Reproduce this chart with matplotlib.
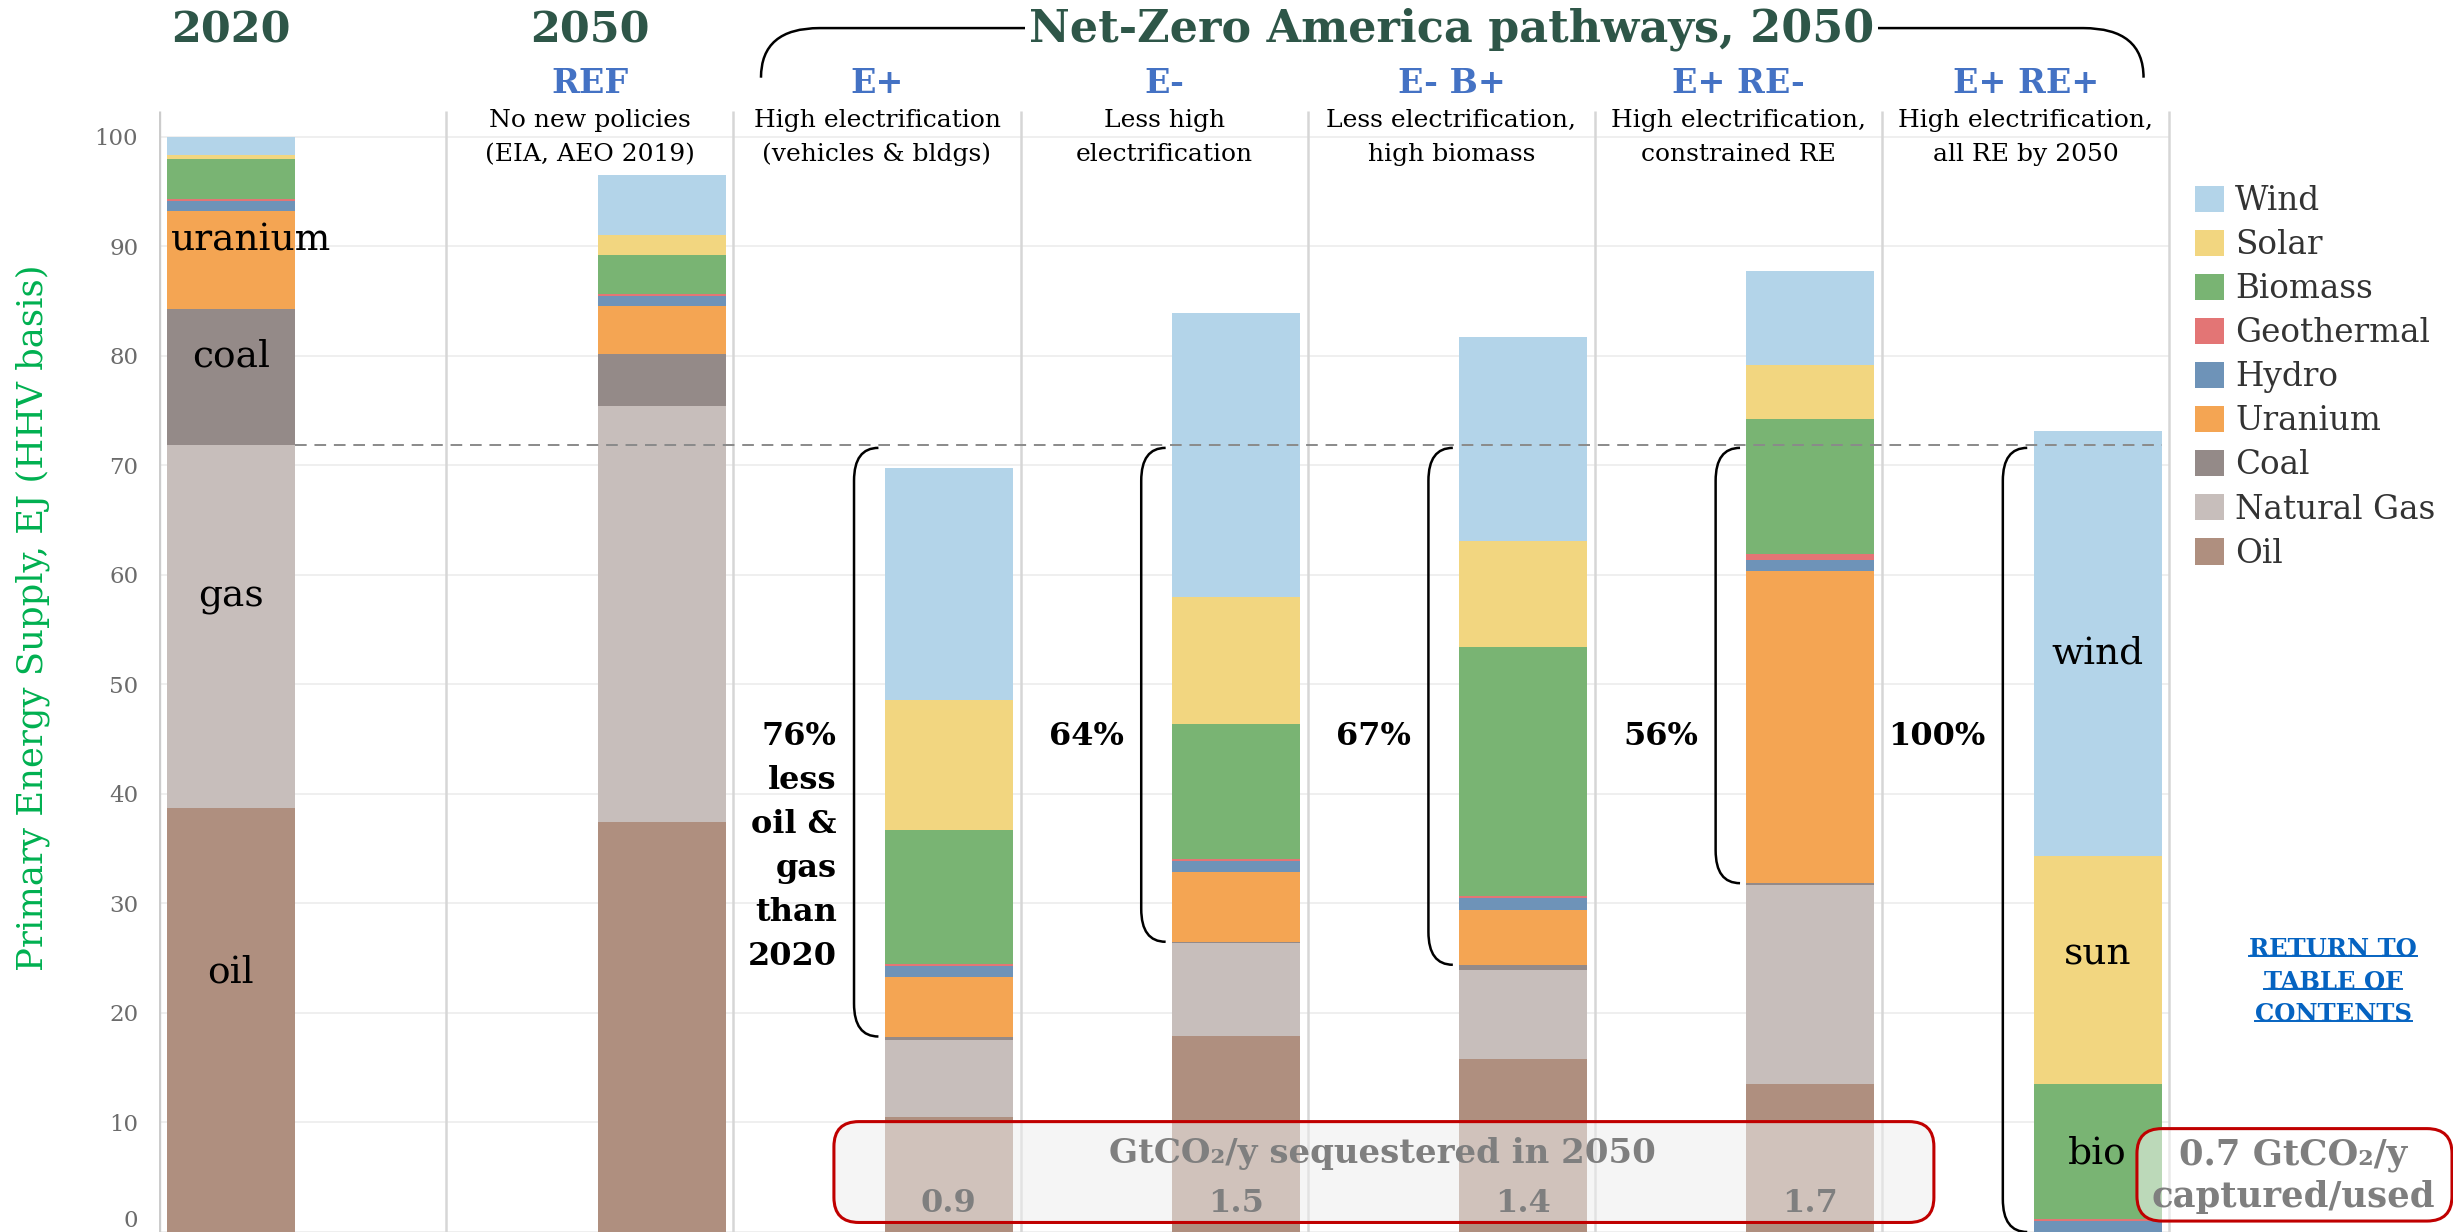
import numpy as np
import matplotlib
matplotlib.use('Agg')
import matplotlib.pyplot as plt
from matplotlib.patches import FancyBboxPatch, PathPatch
from matplotlib.path import Path

plt.rcParams['font.family'] = ['DejaVu Serif']

# columns: 2020 actual, 2050 reference, then the five net-zero pathways
scenarios = ['2020', 'REF', 'E+', 'E-', 'E- B+', 'E+ RE-', 'E+ RE+']
descriptions = [
    None,
    ['No new policies', '(EIA, AEO 2019)'],
    ['High electrification', '(vehicles & bldgs)'],
    ['Less high', 'electrification'],
    ['Less electrification,', 'high biomass'],
    ['High electrification,', 'constrained RE'],
    ['High electrification,', 'all RE by 2050'],
]

# primary energy supply, EJ (HHV), bottom of the stack first
oil = [38.7, 37.45, 10.5, 17.9, 15.8, 13.55, 0.0]
gas = [33.2, 38.0, 7.05, 8.45, 8.15, 18.15, 0.0]
coal = [12.4, 4.7, 0.3, 0.15, 0.45, 0.15, 0.0]
uranium = [8.9, 4.4, 5.45, 6.4, 5.0, 28.55, 0.0]
hydro = [0.95, 0.95, 0.95, 1.0, 1.1, 1.0, 1.0]
geothermal = [0.2, 0.15, 0.2, 0.15, 0.15, 0.55, 0.15]
biomass = [3.6, 3.55, 12.25, 12.3, 22.8, 12.3, 12.35]
solar = [0.4, 1.85, 11.9, 11.6, 9.6, 4.9, 20.8]
wind = [1.6, 5.5, 21.15, 26.0, 18.65, 8.6, 38.8]

sources = ['Oil', 'Natural Gas', 'Coal', 'Uranium', 'Hydro', 'Geothermal', 'Biomass', 'Solar', 'Wind']
stack = [oil, gas, coal, uranium, hydro, geothermal, biomass, solar, wind]
colors = ['#AF8F7F', '#C7BEBB', '#948A88', '#F4A553', '#6E93B8', '#E37575', '#79B473', '#F2D680', '#B3D4E9']

# reduction in oil & gas vs 2020, for the five pathways
pct_less = ['76%', '64%', '67%', '56%', '100%']
# GtCO2/y sequestered in 2050 (E+, E-, E- B+, E+ RE-)
seq_values = ['0.9', '1.5', '1.4', '1.7']
captured_re_plus = '0.7'

fig = plt.figure(figsize=(24.53, 12.32), dpi=100)
ax = fig.add_axes([159 / 2453, 0, 1 - 159 / 2453, 1])
ax.set_xlim(0, (2453 - 159) / 287.2)
ax.set_ylim((1233.5 - 1232) / 10.965, 1233.5 / 10.965)
for s in ax.spines.values():
    s.set_visible(False)
ax.set_xticks([])

x_pos = np.arange(len(scenarios)) + 0.75
x_pos[0] = 0.25
bar_w = 0.446
plot_top = 102.4

# grid + column separators
ax.hlines(np.arange(0, 101, 10), -0.05, 7, color='#eeeeee', lw=1.3, zorder=0)
ax.vlines(np.arange(1, 8), 0, plot_top, color='#d6d6d6', lw=1.8, zorder=1)
ax.vlines(0, 0, plot_top, color='#cccccc', lw=2.4, zorder=1)

bottom = np.zeros(len(scenarios))
handles = []
for name, vals, col in zip(sources, stack, colors):
    b = ax.bar(x_pos, vals, width=bar_w, bottom=bottom, color=col, label=name,
               linewidth=0, zorder=2)
    handles.append(b)
    bottom += np.array(vals)

ax.set_yticks(np.arange(0, 101, 10))
ax.tick_params(axis='y', length=0, pad=15, labelsize=16.5, labelcolor='#6b6b6b')
ax.get_yticklabels()[0].set_va('bottom')
ax.text(-0.44, 56.1, 'Primary Energy Supply, EJ (HHV basis)', rotation=90,
        ha='center', va='center', fontsize=25.5, color='#00B050')

# 2020 oil + gas level
og_2020 = oil[0] + gas[0]
ax.hlines(og_2020, x_pos[0] + bar_w / 2, x_pos[-1] + bar_w / 2, color='#8a8a8a',
          lw=1.4, linestyles=(0, (6, 4)), zorder=3)

# brackets + percent labels
for i, pct in zip(range(2, 7), pct_less):
    top = og_2020 - 0.3
    bot = oil[i] + gas[i] + coal[i]
    xv = x_pos[i] - 0.33
    xe = x_pos[i] - 0.245
    ry = 3.0
    verts = [(xe, top), (xv, top), (xv, top - ry), (xv, bot + ry), (xv, bot), (xe, bot)]
    codes = [Path.MOVETO, Path.CURVE3, Path.CURVE3, Path.LINETO, Path.CURVE3, Path.CURVE3]
    ax.add_patch(PathPatch(Path(verts, codes), fill=False, lw=1.8, edgecolor='black',
                           zorder=3, clip_on=False))
    ax.text(x_pos[i] - 0.39, 45.2, pct, ha='right', va='center', fontsize=23,
            fontweight='bold', zorder=5)
for k, word in enumerate(['less', 'oil &', 'gas', 'than', '2020']):
    ax.text(x_pos[2] - 0.39, 45.2 - 4.0 * (k + 1), word, ha='right', va='center',
            fontsize=23, fontweight='bold', zorder=5)

# in-bar labels
for txt, y in [('uranium', 90.5), ('coal', 79.9), ('gas', 58.0), ('oil', 23.7)]:
    dx = 0.07 if txt == 'uranium' else 0
    ax.text(x_pos[0] + dx, y, txt, ha='center', va='center', fontsize=27, zorder=5)
for txt, y in [('wind', 52.8), ('sun', 25.3), ('bio', 7.2)]:
    ax.text(x_pos[-1], y, txt, ha='center', va='center', fontsize=27, zorder=5)

# headers
ax.text(x_pos[0], 109.7, '2020', ha='center', va='center', fontsize=31,
        fontweight='bold', color='#2E5648')
ax.text(1.5, 109.7, '2050', ha='center', va='center', fontsize=31,
        fontweight='bold', color='#2E5648')
ax.text(4.5, 109.8, 'Net-Zero America pathways, 2050', ha='center', va='center',
        fontsize=32, fontweight='bold', color='#2E5648', zorder=6,
        bbox=dict(boxstyle='square,pad=0.08', fc='white', ec='none'))
yl, yt = 105.4, 109.93
verts = [(2.096, yl), (2.096, yt), (2.30, yt), (6.70, yt), (6.91, yt), (6.91, yl)]
codes = [Path.MOVETO, Path.CURVE3, Path.CURVE3, Path.LINETO, Path.CURVE3, Path.CURVE3]
ax.add_patch(PathPatch(Path(verts, codes), fill=False, lw=1.8, edgecolor='black',
                       zorder=4, clip_on=False))

for i in range(1, 7):
    xc = i + 0.5
    ax.text(xc, 104.9, scenarios[i], ha='center', va='center', fontsize=24,
            fontweight='bold', color='#4472C4')
    for line, y in zip(descriptions[i], [101.5, 98.4]):
        ax.text(xc, y, line, ha='center', va='center', fontsize=18, zorder=5,
                bbox=dict(boxstyle='square,pad=0.15', fc='white', ec='none'))

# legend
leg = ax.legend(handles[::-1], sources[::-1], loc='upper left',
                bbox_to_anchor=(7.09, 95.6), bbox_transform=ax.transData,
                frameon=False, fontsize=23.5, labelcolor='#333333',
                handlelength=0.87, handleheight=0.87, handletextpad=0.35,
                labelspacing=0.37, borderpad=0, borderaxespad=0)

# sequestration boxes
aspect = 287.2 / 10.965
box = FancyBboxPatch((2.35, 0.87), 6.18 - 2.35, 10.08 - 0.87,
                     boxstyle='round,pad=0,rounding_size=0.087', mutation_aspect=aspect,
                     fc=(0.93, 0.93, 0.93, 0.55), ec='#C00000', lw=2.2, zorder=4)
ax.add_patch(box)
ax.text(4.26, 7.16, 'GtCO\u2082/y sequestered in 2050', ha='center', va='center',
        fontsize=24.5, fontweight='bold', color='#7f7f7f', zorder=5)
for i, v in zip(range(2, 6), seq_values):
    ax.text(x_pos[i], 2.6, v, ha='center', va='center', fontsize=23,
            fontweight='bold', color='#7f7f7f', zorder=5)

box2 = FancyBboxPatch((6.887, 1.0), 7.984 - 6.887, 9.44 - 1.0,
                      boxstyle='round,pad=0,rounding_size=0.087', mutation_aspect=aspect,
                      fc=(1, 1, 1, 0.5), ec='#C00000', lw=2.2, zorder=4, clip_on=False)
ax.add_patch(box2)
ax.text(7.43, 7.0, captured_re_plus + ' GtCO\u2082/y', ha='center', va='center',
        fontsize=25.5, fontweight='bold', color='#7f7f7f', zorder=5)
ax.text(7.43, 3.2, 'captured/used', ha='center', va='center',
        fontsize=25.5, fontweight='bold', color='#7f7f7f', zorder=5)

# link text, underlined by hand
link = []
for line, y in zip(['RETURN TO', 'TABLE OF', 'CONTENTS'], [25.8, 22.8, 19.9]):
    link.append(ax.text(7.57, y, line, ha='center', va='center', fontsize=17.5,
                        fontweight='bold', color='#0563C1'))
fig.canvas.draw()
inv = ax.transData.inverted()
for t in link:
    bb = t.get_window_extent()
    (x0, y0), (x1, _) = inv.transform([(bb.x0, bb.y0 + 5), (bb.x1, bb.y0 + 5)])
    ax.plot([x0, x1], [y0, y0], color='#0563C1', lw=1.4)

fig.savefig('out.png', dpi=100)
